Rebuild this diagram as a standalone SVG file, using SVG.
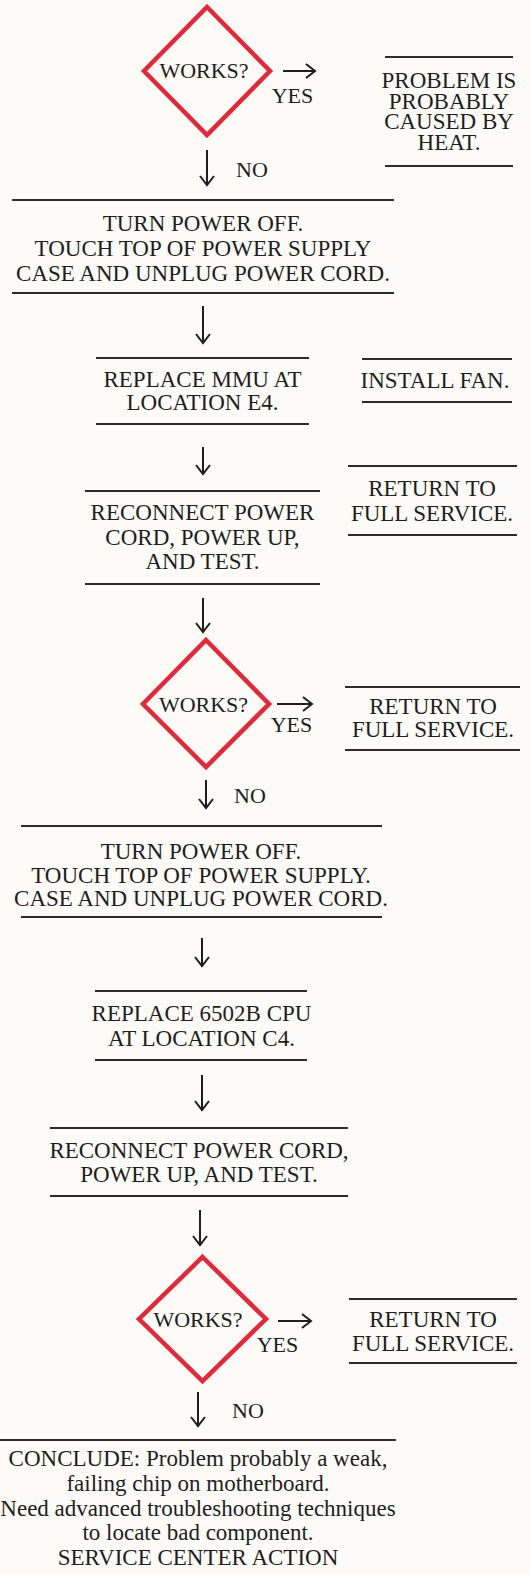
<svg xmlns="http://www.w3.org/2000/svg" width="531" height="1575" viewBox="0 0 531 1575">
<style>
.t{font-family:"Liberation Serif","Times New Roman",serif;font-size:23px;fill:#1e1e1e;text-anchor:middle}
.s{font-size:22px}
.r{stroke:#2b2b2b;stroke-width:2}
.d{fill:none;stroke:#e4283a;stroke-width:4.5;stroke-linejoin:miter}
.a{stroke:#1e1e1e;stroke-width:2;fill:none;marker-end:url(#ah)}
</style>
<defs>
<marker id="ah" markerUnits="userSpaceOnUse" viewBox="-2 -9 14 18" refX="10" refY="0" markerWidth="14" markerHeight="18" orient="auto">
<path d="M1,-7 L10,0 L1,7" fill="none" stroke="#1e1e1e" stroke-width="2"/>
</marker>
</defs>
<rect width="531" height="1575" fill="#fcfbf7"/>

<g id="d1">
<polygon class="d" points="207,7 270,71 207,135 144,71"/>
<text class="t s" x="204" y="78">WORKS?</text>
</g>
<g id="h1">
<line class="r" x1="385" y1="57" x2="513" y2="57"/>
<text class="t" x="449" y="88">PROBLEM IS</text>
<text class="t" x="449" y="108.5">PROBABLY</text>
<text class="t" x="449" y="129">CAUSED BY</text>
<text class="t" x="449" y="150">HEAT.</text>
<line class="r" x1="385" y1="166" x2="513" y2="166"/>
</g>
<g id="b1">
<line class="r" x1="12" y1="200" x2="394" y2="200"/>
<text class="t" x="203" y="231">TURN POWER OFF.</text>
<text class="t" x="203" y="256">TOUCH TOP OF POWER SUPPLY</text>
<text class="t" x="203" y="281">CASE AND UNPLUG POWER CORD.</text>
<line class="r" x1="12" y1="293" x2="394" y2="293"/>
</g>
<g id="b2">
<line class="r" x1="96" y1="358" x2="309" y2="358"/>
<text class="t" x="202.5" y="387">REPLACE MMU AT</text>
<text class="t" x="202.5" y="410">LOCATION E4.</text>
<line class="r" x1="96" y1="424" x2="309" y2="424"/>
</g>
<g id="fan">
<line class="r" x1="362" y1="359" x2="512" y2="359"/>
<text class="t" x="435" y="388">INSTALL FAN.</text>
<line class="r" x1="362" y1="402" x2="512" y2="402"/>
</g>
<g id="b3">
<line class="r" x1="85" y1="491" x2="320" y2="491"/>
<text class="t" x="202.5" y="520">RECONNECT POWER</text>
<text class="t" x="202.5" y="545">CORD, POWER UP,</text>
<text class="t" x="202.5" y="569">AND TEST.</text>
<line class="r" x1="85" y1="584" x2="320" y2="584"/>
</g>
<g id="ret1">
<line class="r" x1="348" y1="466" x2="517" y2="466"/>
<text class="t" x="432" y="496">RETURN TO</text>
<text class="t" x="432" y="521">FULL SERVICE.</text>
<line class="r" x1="348" y1="535" x2="517" y2="535"/>
</g>
<g id="d2">
<polygon class="d" points="206,640 269,704 206,767 143,704"/>
<text class="t s" x="203.5" y="712">WORKS?</text>
</g>
<g id="ret2">
<line class="r" x1="345" y1="687" x2="520" y2="687"/>
<text class="t" x="433" y="714">RETURN TO</text>
<text class="t" x="433" y="737">FULL SERVICE.</text>
<line class="r" x1="345" y1="750" x2="520" y2="750"/>
</g>
<g id="b4">
<line class="r" x1="21" y1="826" x2="382" y2="826"/>
<text class="t" x="201" y="859">TURN POWER OFF.</text>
<text class="t" x="201" y="883">TOUCH TOP OF POWER SUPPLY.</text>
<text class="t" x="201" y="906">CASE AND UNPLUG POWER CORD.</text>
<line class="r" x1="21" y1="917" x2="382" y2="917"/>
</g>
<g id="b5">
<line class="r" x1="95" y1="991" x2="307" y2="991"/>
<text class="t" x="201.5" y="1021">REPLACE 6502B CPU</text>
<text class="t" x="201.5" y="1046">AT LOCATION C4.</text>
<line class="r" x1="95" y1="1060" x2="307" y2="1060"/>
</g>
<g id="b6">
<line class="r" x1="50" y1="1128" x2="348" y2="1128"/>
<text class="t" x="199" y="1158">RECONNECT POWER CORD,</text>
<text class="t" x="199" y="1182">POWER UP, AND TEST.</text>
<line class="r" x1="50" y1="1196" x2="348" y2="1196"/>
</g>
<g id="d3">
<polygon class="d" points="202.5,1257 266,1319 202.5,1381 139,1319"/>
<text class="t s" x="198" y="1327">WORKS?</text>
</g>
<g id="ret3">
<line class="r" x1="349" y1="1299" x2="517" y2="1299"/>
<text class="t" x="433" y="1327">RETURN TO</text>
<text class="t" x="433" y="1351">FULL SERVICE.</text>
<line class="r" x1="349" y1="1363" x2="517" y2="1363"/>
</g>
<g id="end">
<line class="r" x1="0" y1="1440" x2="396" y2="1440"/>
<text class="t" x="198" y="1466">CONCLUDE: Problem probably a weak,</text>
<text class="t" x="198" y="1491">failing chip on motherboard.</text>
<text class="t" x="198" y="1515.5">Need advanced troubleshooting techniques</text>
<text class="t" x="198" y="1540">to locate bad component.</text>
<text class="t" x="198" y="1565">SERVICE CENTER ACTION</text>
</g>

<g id="connectors">
<line class="a" x1="283" y1="71" x2="315" y2="71"/>
<text class="t s" x="292.5" y="103">YES</text>
<line class="a" x1="207" y1="150" x2="207" y2="185"/>
<text class="t s" x="252" y="177">NO</text>
<line class="a" x1="203" y1="306" x2="203" y2="343"/>
<line class="a" x1="203" y1="447" x2="203" y2="474"/>
<line class="a" x1="203" y1="598" x2="203" y2="632"/>
<line class="a" x1="277" y1="704" x2="312" y2="704"/>
<text class="t s" x="291.5" y="732">YES</text>
<line class="a" x1="206" y1="780" x2="206" y2="808"/>
<text class="t s" x="250" y="803">NO</text>
<line class="a" x1="202" y1="938" x2="202" y2="966"/>
<line class="a" x1="202" y1="1075" x2="202" y2="1110"/>
<line class="a" x1="200" y1="1210" x2="200" y2="1245"/>
<line class="a" x1="278" y1="1321" x2="311" y2="1321"/>
<text class="t s" x="277.5" y="1352">YES</text>
<line class="a" x1="198" y1="1392" x2="198" y2="1426"/>
<text class="t s" x="248" y="1418">NO</text>
</g>
</svg>
